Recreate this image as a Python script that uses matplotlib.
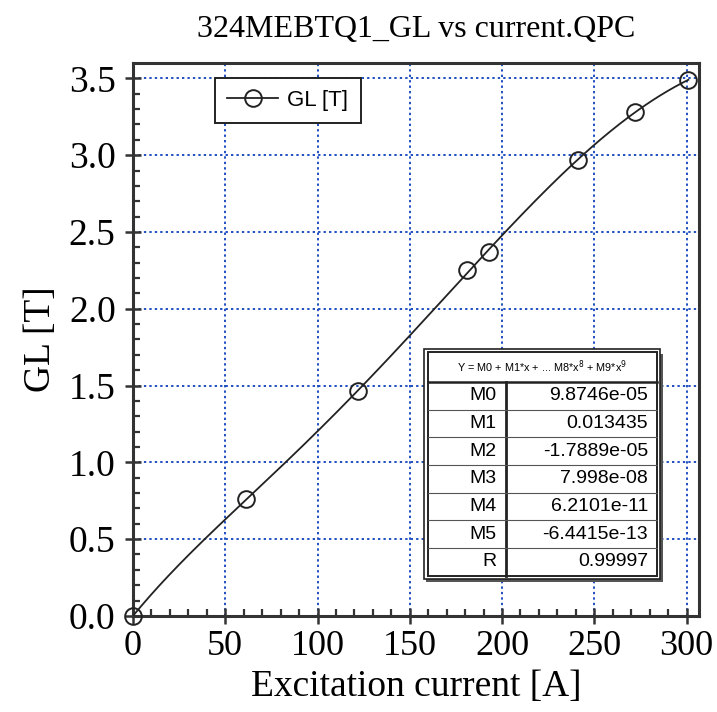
import matplotlib
matplotlib.use('Agg')
import matplotlib.pyplot as plt
from matplotlib.patches import Rectangle
import numpy as np

current = [0, 61.5, 122, 181, 193, 241, 272, 301]
gl = [0.0, 0.76, 1.465, 2.25, 2.37, 2.97, 3.28, 3.49]

# fit table as printed on the chart
coef_names = ['M0', 'M1', 'M2', 'M3', 'M4', 'M5', 'R']
coef_text = ['9.8746e-05', '0.013435', '-1.7889e-05', '7.998e-08',
             '6.2101e-11', '-6.4415e-13', '0.99997']

x_ticks = [0, 50, 100, 150, 200, 250, 300]
y_ticks = [0.0, 0.5, 1.0, 1.5, 2.0, 2.5, 3.0, 3.5]

serif = 'Liberation Serif'
sans = 'Liberation Sans'
ink = '#222222'

fig = plt.figure(figsize=(7.17, 7.12), dpi=100)
ax = fig.add_axes([0.1855, 0.135, 0.79, 0.7765])

# 5th order polynomial fit, like the original
p = np.polyfit(current, gl, 5)
xs = np.linspace(0, max(current), 300)
ax.plot(xs, np.polyval(p, xs), color=ink, lw=1.3, zorder=3)
ax.plot(current, gl, ls='none', marker='o', ms=12, mfc='none', mec=ink,
        mew=1.4, clip_on=False, zorder=4)
# legend proxy
ax.plot([], [], color=ink, lw=1.3, marker='o', ms=12, mfc='none', mec=ink,
        mew=1.4, label='GL [T]')

ax.set_xlim(0, 307)
ax.set_ylim(0, 3.6)
ax.set_xticks(x_ticks)
ax.set_yticks(y_ticks)
ax.set_xticklabels([str(t) for t in x_ticks])
ax.set_yticklabels(['%.1f' % t for t in y_ticks])
ax.set_xticks(np.arange(0, 307, 10), minor=True)
ax.set_yticks(np.arange(0, 3.6, 0.1), minor=True)
ax.tick_params(which='major', direction='inout', length=11, width=1.8,
               color='#333333', labelsize=27)
ax.tick_params(axis='x', which='major', pad=5, labelsize=26)
ax.tick_params(axis='y', which='major', pad=7)
ax.tick_params(which='minor', direction='in', length=5, width=1.6,
               color='#333333')
ax.tick_params(top=False, right=False, which='both')
for lab in ax.get_xticklabels() + ax.get_yticklabels():
    lab.set_family(serif)
for s in ax.spines.values():
    s.set_linewidth(2.2)
    s.set_color('#333333')

ax.grid(True, which='major', color='#1f4fc0', ls=(0, (1.2, 1.6)), lw=1.4)
ax.set_axisbelow(True)

ax.set_xlabel('Excitation current [A]', family=serif, fontsize=27, labelpad=4)
ax.set_ylabel('GL [T]', family=serif, fontsize=27, labelpad=8)
ax.set_title('324MEBTQ1_GL vs current.QPC', family=serif, fontsize=23, pad=19)

lgd = ax.legend(loc='upper left', bbox_to_anchor=(0.145, 0.973),
                borderaxespad=0, fancybox=False, edgecolor=ink, framealpha=1,
                prop={'family': sans, 'size': 16}, handlelength=2.3,
                handletextpad=0.4, borderpad=0.55)
lgd.get_frame().set_linewidth(1.4)

# fit results table
tl, tr = 0.52, 0.925
top = 0.477
hh = 0.054
rh = 0.050
bot = top - hh - rh * len(coef_names)
div = 0.658
tf = ax.transAxes
ax.add_patch(Rectangle((tl - 0.002, bot - 0.012), tr - tl + 0.012, top - bot + 0.008,
                       transform=tf, fc='#555555', ec='none', zorder=5))
ax.add_patch(Rectangle((tl - 0.006, bot - 0.006), tr - tl + 0.012, top - bot + 0.012,
                       transform=tf, fc='white', ec=ink, lw=1.2, zorder=6))
ax.add_patch(Rectangle((tl, bot), tr - tl, top - bot,
                       transform=tf, fc='white', ec=ink, lw=1.4, zorder=7))
ax.plot([tl, tr], [top - hh, top - hh], transform=tf, color=ink, lw=1.8, zorder=8)
ax.plot([div, div], [bot, top - hh], transform=tf, color=ink, lw=2.0, zorder=8)
ax.text((tl + tr) / 2, top - hh / 2,
        r'Y = M0 + M1*x + ... M8*x$^8$ + M9*x$^9$', transform=tf,
        ha='center', va='center', family=sans, fontsize=7.8, zorder=9)
for i, (nm, val) in enumerate(zip(coef_names, coef_text)):
    yc = top - hh - rh * (i + 0.5)
    if i > 0:
        ax.plot([tl, tr], [yc + rh / 2, yc + rh / 2], transform=tf,
                color='#555555', lw=0.8, zorder=8)
    ax.text(div - 0.016, yc, nm, transform=tf, ha='right', va='center',
            family=sans, fontsize=14, zorder=9)
    ax.text(tr - 0.016, yc, val, transform=tf, ha='right', va='center',
            family=sans, fontsize=14, zorder=9)

plt.savefig('out.png', dpi=100)
